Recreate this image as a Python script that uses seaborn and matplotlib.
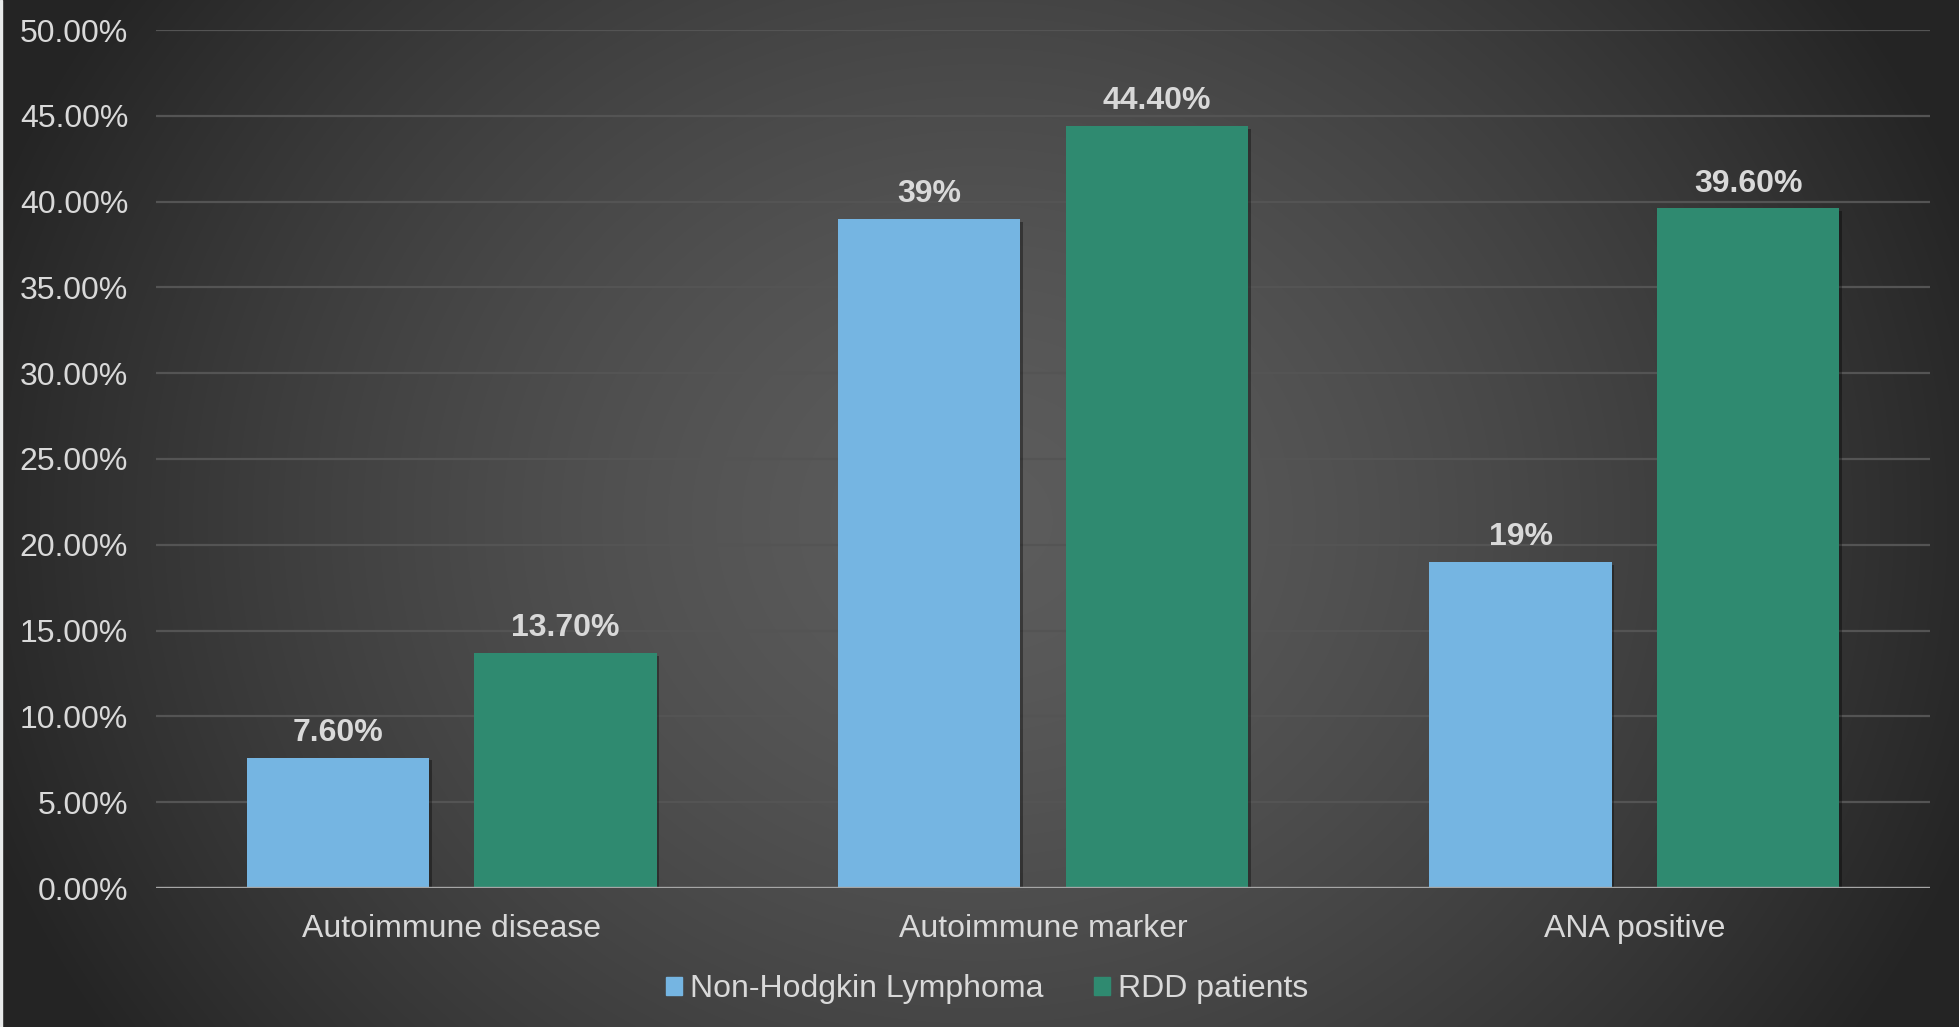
import numpy as np
import pandas as pd
import seaborn as sns
import matplotlib.pyplot as plt
from matplotlib.patches import Rectangle
from matplotlib import patheffects as pe

# Data
categories = ["Autoimmune disease", "Autoimmune marker", "ANA positive"]
series = ["Non-Hodgkin Lymphoma", "RDD patients"]
nhl_values = [0.076, 0.39, 0.19]
rdd_values = [0.137, 0.444, 0.396]
nhl_labels = ["7.60%", "39%", "19%"]
rdd_labels = ["13.70%", "44.40%", "39.60%"]
y_ticks = [0.0, 0.05, 0.10, 0.15, 0.20, 0.25, 0.30, 0.35, 0.40, 0.45, 0.50]

colors = ["#75B5E2", "#2F8A70"]
text_color = "#D9D9D9"

df = pd.DataFrame({
    "category": categories * 2,
    "value": nhl_values + rdd_values,
    "group": [series[0]] * 3 + [series[1]] * 3,
})

sns.set_style("white")
plt.rcParams["font.family"] = ["Liberation Sans", "DejaVu Sans"]

W, H = 1959, 1027
fig = plt.figure(figsize=(W / 100, H / 100), dpi=100)

# Radial dark-grey gradient background
bg = fig.add_axes([0, 0, 1, 1])
xx, yy = np.meshgrid(np.arange(W), np.arange(H))
r = np.sqrt(((xx - 980) / 980.0) ** 2 + ((yy - 520) / 870.0) ** 2)
shade = np.clip(92 - 50 * r ** 1.5, 36, 92) / 255.0
bg.imshow(np.dstack([shade] * 3), aspect="auto", extent=[0, W, H, 0])
bg.add_patch(Rectangle((0, 0), 2, H, color="#E8EAEA"))
bg.set_xlim(0, W)
bg.set_ylim(H, 0)
bg.axis("off")

# Main axes
ax = fig.add_axes([156 / W, 1 - 888 / H, (1930 - 156) / W, (888 - 30) / H])
ax.set_facecolor("none")

sns.barplot(
    data=df, x="category", y="value", hue="group",
    palette=colors, width=0.77, gap=0.2, saturation=1,
    linewidth=0, legend=False, ax=ax, zorder=3,
)

for patch in ax.patches:
    patch.set_path_effects([
        pe.SimplePatchShadow(offset=(2, -2), shadow_rgbFace="black", alpha=0.35),
        pe.Normal(),
    ])

for cont, labs in zip(ax.containers, [nhl_labels, rdd_labels]):
    ax.bar_label(cont, labels=labs, padding=7, color=text_color,
                 fontsize=23, fontweight="bold")

ax.set_xlim(-0.5, 2.5)
ax.set_ylim(0, 0.5)
ax.set_yticks(y_ticks)
ax.set_yticklabels([f"{t * 100:.2f}%" for t in y_ticks])
ax.yaxis.grid(True, color="#545454", linewidth=1.6, zorder=0)
ax.set_axisbelow(True)
ax.axhline(0, color="#A6A6A6", linewidth=2.4, zorder=4)

ax.tick_params(axis="y", length=0, pad=20, labelsize=23, labelcolor=text_color)
ax.tick_params(axis="x", length=0, pad=19, labelsize=23, labelcolor=text_color)
ax.set_xlabel("")
ax.set_ylabel("")
for s in ax.spines.values():
    s.set_visible(False)

handles = [Rectangle((0, 0), 1, 1, color=c) for c in colors]
fig.legend(
    handles, series, loc="center", bbox_to_anchor=(987 / W, 1 - 989 / H),
    ncol=2, frameon=False, fontsize=23, labelcolor=text_color,
    handlelength=0.5, handleheight=0.5, handletextpad=0.25, columnspacing=1.6,
)

fig.savefig("out.png", dpi=100)
